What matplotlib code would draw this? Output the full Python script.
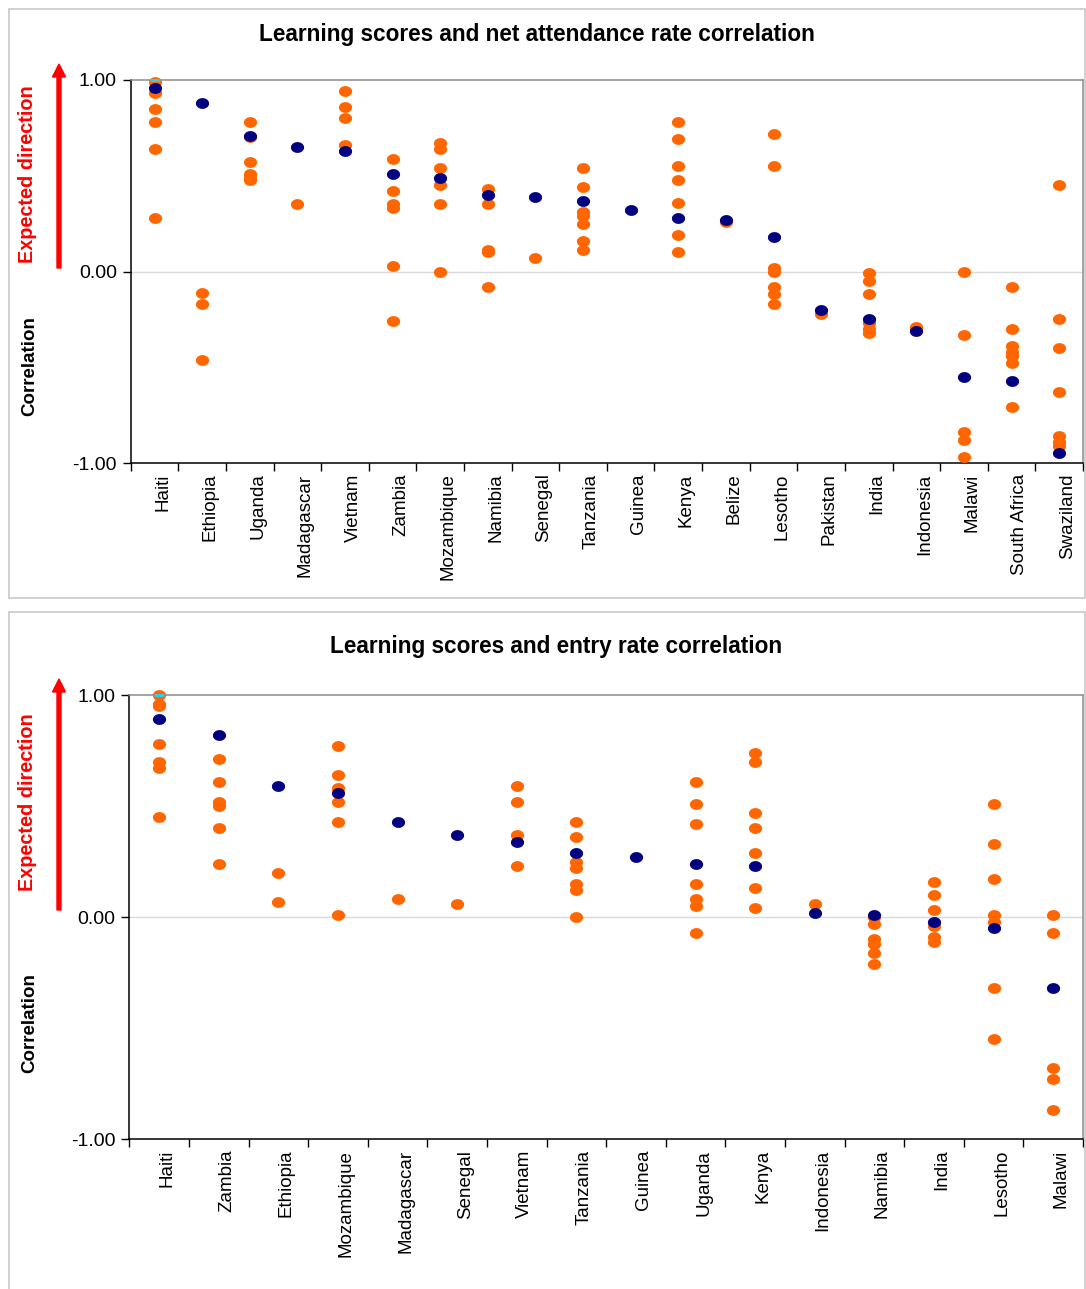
import numpy as np
import matplotlib
matplotlib.use("Agg")
import matplotlib.pyplot as plt
from matplotlib.path import Path
from matplotlib.patches import FancyArrow, Rectangle
from matplotlib.transforms import IdentityTransform, ScaledTranslation

plt.rcParams['font.family'] = ['Liberation Sans', 'DejaVu Sans']

# ---------------- data ----------------
top_title = "Learning scores and net attendance rate correlation"
top_countries = ["Haiti", "Ethiopia", "Uganda", "Madagascar", "Vietnam", "Zambia",
                 "Mozambique", "Namibia", "Senegal", "Tanzania", "Guinea", "Kenya",
                 "Belize", "Lesotho", "Pakistan", "India", "Indonesia", "Malawi",
                 "South Africa", "Swaziland"]
top_national = [0.96, 0.88, 0.71, 0.65, 0.63, 0.51, 0.49, 0.40, 0.39, 0.37, 0.32,
                0.28, 0.27, 0.18, -0.20, -0.25, -0.31, -0.55, -0.57, -0.95]
top_groups = [
    [0.99, 0.93, 0.85, 0.78, 0.64, 0.28],            # Haiti
    [-0.11, -0.17, -0.46],                           # Ethiopia
    [0.78, 0.70, 0.57, 0.51, 0.49, 0.48],            # Uganda
    [0.35],                                          # Madagascar
    [0.94, 0.86, 0.80, 0.66],                        # Vietnam
    [0.59, 0.42, 0.35, 0.33, 0.03, -0.26],           # Zambia
    [0.67, 0.64, 0.54, 0.45, 0.35, 0.00],            # Mozambique
    [0.43, 0.35, 0.11, 0.10, -0.08],                 # Namibia
    [0.07],                                          # Senegal
    [0.54, 0.44, 0.31, 0.29, 0.25, 0.16, 0.11],      # Tanzania
    [],                                              # Guinea
    [0.78, 0.69, 0.55, 0.48, 0.36, 0.19, 0.10],      # Kenya
    [0.26],                                          # Belize
    [0.72, 0.55, 0.02, 0.00, -0.08, -0.12, -0.17],   # Lesotho
    [-0.22],                                         # Pakistan
    [-0.01, -0.05, -0.12, -0.27, -0.30, -0.32],      # India
    [-0.29],                                         # Indonesia
    [0.00, -0.33, -0.84, -0.88, -0.97],              # Malawi
    [-0.08, -0.30, -0.39, -0.42, -0.44, -0.48, -0.71],  # South Africa
    [0.45, -0.25, -0.40, -0.63, -0.86, -0.89, -0.91],   # Swaziland
]
top_max_country = "Haiti"
top_max_value = 1.00

bot_title = "Learning scores and entry rate correlation"
bot_countries = ["Haiti", "Zambia", "Ethiopia", "Mozambique", "Madagascar", "Senegal",
                 "Vietnam", "Tanzania", "Guinea", "Uganda", "Kenya", "Indonesia",
                 "Namibia", "India", "Lesotho", "Malawi"]
bot_national = [0.89, 0.82, 0.59, 0.56, 0.43, 0.37, 0.34, 0.29, 0.27, 0.24, 0.23,
                0.02, 0.01, -0.02, -0.05, -0.32]
bot_groups = [
    [1.00, 0.96, 0.95, 0.78, 0.70, 0.67, 0.45],      # Haiti
    [0.71, 0.61, 0.52, 0.50, 0.40, 0.24],            # Zambia
    [0.20, 0.07],                                    # Ethiopia
    [0.77, 0.64, 0.58, 0.52, 0.43, 0.01],            # Mozambique
    [0.08],                                          # Madagascar
    [0.06],                                          # Senegal
    [0.59, 0.52, 0.37, 0.23],                        # Vietnam
    [0.43, 0.36, 0.25, 0.22, 0.15, 0.12, 0.00],      # Tanzania
    [],                                              # Guinea
    [0.61, 0.51, 0.42, 0.15, 0.08, 0.05, -0.07],     # Uganda
    [0.74, 0.70, 0.47, 0.40, 0.29, 0.13, 0.04],      # Kenya
    [0.06],                                          # Indonesia
    [0.00, -0.03, -0.10, -0.12, -0.16, -0.21],       # Namibia
    [0.16, 0.10, 0.03, -0.04, -0.09, -0.11],         # India
    [0.51, 0.33, 0.17, 0.01, -0.02, -0.32, -0.55],   # Lesotho
    [0.01, -0.07, -0.68, -0.73, -0.87],              # Malawi
]
bot_max_country = "Haiti"
bot_max_value = 1.00

yticks = [-1.0, 0.0, 1.0]

# ---------------- style ----------------
W, H = 1086, 1289
DPI = 100
ORANGE = "#FF6600"
NAVY = "#000080"
CYAN = "#33CCEE"

t = np.linspace(0, 2 * np.pi, 60)
ellipse = Path(np.c_[np.cos(t), 0.82 * np.sin(t)])

fig = plt.figure(figsize=(W / DPI, H / DPI), dpi=DPI)


def px_axes(x0, y0, x1, y1):
    return fig.add_axes([x0 / W, 1 - y1 / H, (x1 - x0) / W, (y1 - y0) / H])


def draw_panel(ax, countries, national, groups, max_country, max_value):
    n = len(countries)
    xs = np.arange(n) + 0.5
    gx, gy = [], []
    for i, vals in enumerate(groups):
        for v in vals:
            gx.append(xs[i])
            gy.append(v)
    ax.plot(gx, gy, linestyle="none", marker=ellipse, markersize=9.5,
            color=ORANGE, markeredgewidth=0, zorder=3, clip_on=False)
    ax.plot(xs, national, linestyle="none", marker=ellipse, markersize=9.5,
            color=NAVY, markeredgewidth=0, zorder=4, clip_on=False)
    mi = countries.index(max_country)
    ax.plot([xs[mi]], [max_value], linestyle="none", marker="_", markersize=7.5,
            markeredgewidth=2.2, color=CYAN, zorder=5, clip_on=False)

    ax.set_xlim(0, n)
    ax.set_ylim(-1, 1)
    ax.set_yticks(yticks)
    ax.set_yticklabels([f"{v:.2f}" for v in yticks], fontsize=14)
    ax.set_xticks(xs)
    ax.set_xticklabels(countries, rotation=90, fontsize=13.5, va="top", ha="center")
    ax.set_xticks(np.arange(n + 1), minor=True)
    ax.tick_params(axis="x", which="major", length=0, pad=7.5)
    ax.tick_params(axis="x", which="minor", length=6, width=1, color="black",
                   direction="out")
    ax.tick_params(axis="y", length=6, width=1, direction="out", pad=4)
    offset = ScaledTranslation(8 / DPI, 0, fig.dpi_scale_trans)
    for lab in ax.get_xticklabels():
        lab.set_transform(lab.get_transform() + offset)
    ax.axhline(0, color="#D9D9D9", lw=1, zorder=1)
    for s in ("left", "bottom"):
        ax.spines[s].set_color("black")
        ax.spines[s].set_linewidth(1.1)
    for s in ("top", "right"):
        ax.spines[s].set_color("#8C8C8C")
        ax.spines[s].set_linewidth(1.1)


# panel frames
for (y0, y1) in [(9, 598), (612, 1300)]:
    fig.add_artist(Rectangle((9, H - y1), 1076, y1 - y0, transform=IdentityTransform(),
                             fill=False, edgecolor="#C8C8C8", lw=1.2))

ax1 = px_axes(130.7, 80, 1083, 463)
draw_panel(ax1, top_countries, top_national, top_groups, top_max_country, top_max_value)
ax2 = px_axes(129.3, 695, 1083, 1139.3)
draw_panel(ax2, bot_countries, bot_national, bot_groups, bot_max_country, bot_max_value)

# titles
fig.text(537 / W, 1 - 34 / H, top_title, ha="center", va="center",
         fontsize=16.3, fontweight="bold")
fig.text(556 / W, 1 - 647 / H, bot_title, ha="center", va="center",
         fontsize=16.3, fontweight="bold")

# side labels and arrows
for (yc_exp, yc_cor, ya0, ya1) in [(174, 366, 268, 64), (802, 1023, 910, 679)]:
    fig.text(28 / W, 1 - yc_exp / H, "Expected direction", rotation=90, color="red",
             fontsize=14.3, fontweight="bold", ha="center", va="center")
    fig.text(30 / W, 1 - yc_cor / H, "Correlation", rotation=90, color="black",
             fontsize=13.5, fontweight="bold", ha="center", va="center")
    fig.add_artist(FancyArrow(59, H - ya0, 0, (ya0 - ya1) - 13, width=4,
                              head_width=13, head_length=13, length_includes_head=False,
                              color="red", transform=IdentityTransform()))

fig.savefig("out.png", dpi=DPI)
